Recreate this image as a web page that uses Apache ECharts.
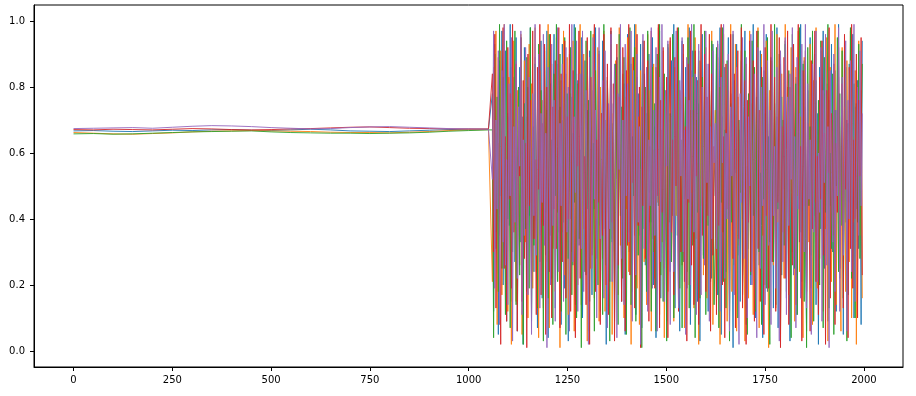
<!DOCTYPE html>
<html><head><meta charset="utf-8">
<script src="https://cdn.jsdelivr.net/npm/echarts@6/dist/echarts.min.js"></script>
<style>html,body{margin:0;padding:0;background:#fff}#c{width:916px;height:396px}</style>
</head><body><div id="c"></div>
<script>
// sampling grids
const stableStart = 0, stableStep = 50;
const chaosStart = 1060, chaosStep = 3;
const xTicks = [0, 250, 500, 750, 1000, 1250, 1500, 1750, 2000];
const yTicks = [0.0, 0.2, 0.4, 0.6, 0.8, 1.0];
const seriesColors = ['#1f77b4', '#ff7f0e', '#2ca02c', '#d62728', '#9467bd'];

// stable phase (x = 0..1050, every 50)
const stable0 = [.667,.668,.666,.665,.667,.669,.668,.670,.671,.669,.668,.670,.672,.670,.667,.666,.665,.667,.669,.671,.672,.672];
const stable1 = [.662,.660,.658,.657,.659,.661,.664,.666,.667,.668,.667,.666,.665,.663,.662,.662,.661,.663,.665,.668,.670,.671];
const stable2 = [.658,.659,.657,.658,.660,.662,.664,.665,.666,.667,.664,.662,.661,.660,.660,.659,.660,.661,.663,.666,.668,.670];
const stable3 = [.671,.670,.672,.671,.670,.672,.674,.673,.671,.670,.671,.673,.674,.676,.678,.679,.677,.675,.674,.673,.673,.673];
const stable4 = [.674,.675,.676,.677,.675,.678,.681,.683,.682,.680,.677,.675,.673,.674,.677,.679,.680,.678,.676,.674,.673,.672];

// chaotic phase (x = 1060..1996, every 3)
const chaos0 = [.78,.12,.93,.31,.66,.05,.88,.47,.97,.20,
.54,.91,.09,.72,.38,.99,.15,.61,.83,.27,
.95,.06,.49,.86,.33,.71,.02,.92,.58,.18,
.80,.41,.98,.11,.67,.24,.89,.52,.07,.76,
.35,.94,.16,.63,.85,.29,.97,.04,.57,.81,
.22,.69,.96,.13,.45,.87,.36,.74,.08,.93,
.51,.19,.84,.62,.03,.90,.40,.77,.26,.99,
.14,.59,.82,.32,.68,.95,.10,.47,.88,.23,
.73,.06,.91,.55,.17,.79,.43,.98,.28,.64,
.86,.12,.50,.94,.37,.70,.02,.83,.60,.21,
.97,.34,.75,.09,.56,.89,.25,.66,.92,.15,
.42,.81,.05,.71,.96,.30,.58,.87,.18,.63,
.99,.11,.48,.78,.35,.93,.07,.61,.84,.26,
.72,.14,.90,.53,.39,.95,.20,.68,.04,.85,
.46,.97,.16,.59,.80,.31,.74,.09,.92,.55,
.24,.88,.41,.99,.13,.65,.82,.36,.06,.77,
.94,.27,.52,.86,.19,.69,.98,.08,.44,.91,
.33,.62,.83,.15,.75,.03,.57,.96,.29,.70,
.87,.40,.12,.81,.64,.22,.93,.58,
.47,.90,.17,.63,.98,.05,.71,.36,.86,.24,
.59,.95,.12,.78,.43,.01,.82,.54,.93,.29,
.67,.15,.88,.40,.74,.97,.08,.56,.31,.84,
.20,.69,.99,.45,.10,.77,.62,.26,.91,.38,
.04,.85,.52,.96,.18,.65,.33,.89,.58,.13,
.75,.42,.98,.07,.61,.87,.23,.70,.49,.94,
.16,.80,.35,.03,.73,.92,.28,.57,.83,.11,
.66,.46,.99,.21,.60,.88,.34,.06,.79,.53,
.95,.19,.68,.41,.90,.14,.72,.02,.86,.37,
.63,.97,.25,.50,.81,.09,.76,.44,.93,.30,
.58,.85,.12,.67,.99,.22,.48,.79,.05,.91,
.39,.64,.17,.87,.55,.27,.96,.10,.74,.43,
.82,.31,.69,.08,.94];
const chaos1 = [.21,.86,.44,.97,.08,.63,.35,.91,.17,.74,
.99,.29,.56,.12,.83,.47,.02,.69,.94,.38,
.15,.79,.60,.26,.96,.05,.52,.88,.33,.71,
.10,.93,.45,.81,.19,.67,.98,.24,.58,.04,
.85,.39,.76,.13,.92,.50,.27,.99,.07,.64,
.87,.31,.55,.18,.95,.42,.73,.01,.82,.36,
.97,.23,.61,.89,.11,.48,.78,.30,.94,.06,
.57,.84,.20,.68,.99,.14,.43,.90,.34,.75,
.03,.62,.86,.25,.53,.96,.16,.70,.40,.92,
.09,.80,.59,.28,.97,.12,.46,.83,.37,.65,
.93,.05,.72,.21,.88,.49,.17,.98,.32,.60,
.84,.10,.77,.43,.95,.24,.66,.02,.89,.54,
.35,.99,.19,.71,.08,.85,.47,.92,.27,.63,
.14,.96,.39,.79,.06,.58,.87,.22,.74,.45,
.98,.11,.67,.33,.91,.04,.55,.82,.18,.69,
.94,.30,.61,.09,.86,.41,.97,.15,.76,.51,
.26,.90,.07,.65,.38,.99,.20,.73,.48,.83,
.13,.95,.34,.57,.02,.88,.44,.79,.23,.68,
.92,.16,.52,.85,.31,.97,.08,.60,
.73,.14,.89,.50,.02,.81,.36,.96,.27,.62,
.09,.85,.44,.99,.18,.70,.55,.93,.06,.77,
.32,.64,.91,.23,.48,.03,.87,.59,.16,.97,
.40,.75,.11,.83,.29,.68,.98,.07,.53,.90,
.35,.61,.20,.94,.46,.01,.79,.57,.88,.26,
.72,.13,.96,.39,.66,.05,.84,.51,.22,.99,
.43,.80,.17,.63,.92,.30,.58,.09,.86,.47,
.97,.24,.71,.38,.04,.89,.55,.15,.76,.33,
.93,.60,.08,.82,.45,.98,.19,.67,.28,.91,
.52,.12,.78,.37,.95,.03,.64,.86,.21,.70,
.49,.99,.14,.58,.83,.31,.06,.92,.42,.74,
.18,.88,.56,.27,.97,.10,.65,.39,.85,.02,
.61,.94,.35,.79,.16];
const chaos2 = [.67,.04,.90,.36,.77,.18,.99,.49,.25,.83,
.58,.11,.94,.40,.71,.07,.86,.30,.62,.97,
.14,.53,.80,.23,.95,.44,.02,.75,.37,.89,
.60,.19,.98,.09,.68,.32,.87,.50,.13,.93,
.27,.79,.56,.03,.91,.42,.73,.16,.96,.35,
.64,.08,.84,.47,.99,.21,.59,.90,.12,.70,
.39,.95,.05,.78,.28,.57,.92,.17,.66,.45,
.98,.10,.81,.34,.61,.01,.88,.51,.24,.94,
.43,.76,.15,.97,.31,.63,.06,.85,.54,.20,
.91,.38,.72,.11,.99,.46,.26,.82,.59,.03,
.93,.33,.69,.17,.87,.52,.08,.96,.41,.74,
.22,.89,.56,.05,.79,.36,.98,.14,.65,.47,
.92,.09,.83,.29,.71,.55,.01,.94,.37,.80,
.18,.97,.48,.62,.12,.86,.30,.75,.06,.90,
.44,.99,.23,.67,.15,.84,.53,.03,.93,.39,
.72,.27,.96,.10,.58,.81,.35,.98,.19,.64,
.07,.88,.46,.77,.24,.95,.13,.60,.85,.32,
.99,.04,.70,.42,.91,.16,.56,.83,.28,.97,
.11,.66,.38,.87,.21,.94,.50,.14,
.34,.92,.58,.07,.80,.45,.98,.21,.67,.13,
.88,.52,.03,.75,.39,.96,.26,.61,.84,.10,
.70,.48,.99,.17,.56,.91,.33,.05,.78,.62,
.23,.94,.41,.86,.12,.69,.97,.30,.54,.08,
.83,.46,.72,.19,.95,.37,.02,.88,.60,.27,
.99,.14,.65,.43,.90,.06,.77,.51,.32,.93,
.18,.71,.85,.40,.04,.96,.57,.25,.81,.11,
.63,.98,.36,.49,.87,.15,.74,.01,.92,.44,
.68,.29,.97,.09,.59,.82,.35,.76,.20,.94,
.53,.07,.89,.42,.66,.99,.13,.60,.31,.84,
.05,.73,.50,.95,.24,.78,.38,.91,.16,.57,
.86,.03,.69,.45,.98,.22,.62,.81,.10,.75,
.39,.93,.28,.64,.87];
const chaos3 = [.84,.30,.96,.13,.57,.89,.41,.02,.73,.98,
.25,.65,.09,.92,.46,.78,.19,.99,.36,.61,
.87,.06,.70,.53,.95,.15,.82,.28,.63,.01,
.90,.44,.76,.21,.97,.34,.58,.11,.86,.49,
.99,.17,.69,.38,.93,.05,.80,.55,.24,.96,
.10,.74,.43,.88,.31,.62,.98,.07,.84,.27,
.52,.94,.16,.71,.40,.99,.12,.66,.85,.33,
.04,.79,.56,.97,.22,.68,.91,.37,.59,.14,
.95,.48,.02,.83,.29,.75,.99,.18,.64,.45,
.90,.08,.72,.35,.96,.54,.20,.87,.11,.67,
.98,.39,.81,.03,.60,.93,.26,.77,.47,.15,
.92,.58,.06,.85,.32,.99,.23,.70,.51,.89,
.13,.63,.96,.38,.80,.01,.74,.44,.94,.28,
.57,.88,.09,.69,.97,.34,.61,.19,.86,.47,
.99,.07,.76,.42,.92,.25,.55,.83,.04,.71,
.95,.36,.64,.17,.89,.50,.98,.12,.79,.30,
.60,.93,.21,.68,.03,.87,.45,.97,.26,.73,
.14,.91,.53,.82,.08,.66,.99,.35,.58,.90,
.18,.77,.41,.96,.06,.84,.29,.62,
.56,.11,.93,.38,.72,.99,.20,.65,.04,.87,
.43,.79,.16,.96,.53,.28,.84,.07,.70,.91,
.34,.60,.98,.13,.47,.82,.02,.76,.39,.94,
.24,.67,.88,.09,.58,.97,.31,.73,.15,.86,
.50,.05,.92,.41,.78,.19,.63,.99,.27,.55,
.83,.12,.71,.45,.95,.01,.68,.36,.89,.22,
.61,.97,.08,.80,.48,.26,.93,.57,.14,.74,
.99,.33,.62,.03,.85,.44,.91,.18,.69,.52,
.06,.88,.37,.77,.97,.21,.59,.11,.83,.46,
.94,.29,.66,.02,.79,.54,.98,.16,.72,.35,
.87,.08,.63,.42,.92,.25,.57,.81,.13,.96,
.49,.70,.04,.86,.31,.99,.19,.64,.40,.90,
.10,.76,.53,.95,.23];
const chaos4 = [.52,.97,.19,.70,.43,.91,.08,.62,.85,.33,
.99,.26,.58,.14,.81,.47,.95,.03,.68,.39,
.88,.22,.74,.56,.97,.11,.64,.35,.92,.49,
.17,.83,.60,.05,.78,.41,.99,.29,.55,.90,
.13,.72,.45,.96,.32,.66,.01,.86,.53,.20,
.93,.38,.76,.09,.59,.98,.24,.69,.44,.87,
.15,.63,.92,.36,.80,.06,.57,.99,.27,.71,
.48,.94,.12,.65,.84,.31,.97,.18,.54,.79,
.40,.02,.89,.61,.25,.95,.46,.73,.10,.67,
.98,.34,.58,.82,.16,.91,.50,.07,.75,.37,
.96,.21,.63,.87,.42,.04,.78,.55,.99,.28,
.70,.14,.93,.47,.81,.33,.60,.97,.09,.85,
.52,.23,.90,.39,.68,.02,.77,.96,.31,.57,
.86,.12,.64,.44,.98,.19,.73,.35,.92,.06,
.61,.83,.27,.99,.49,.15,.79,.56,.94,.38,
.08,.71,.88,.24,.65,.97,.41,.13,.82,.53,
.95,.30,.67,.05,.89,.46,.76,.20,.99,.59,
.36,.84,.11,.72,.93,.43,.17,.80,.62,.26,
.97,.51,.87,.09,.68,.34,.91,.57,
.69,.31,.94,.48,.12,.83,.57,.99,.22,.66,
.40,.90,.06,.74,.53,.97,.17,.61,.86,.35,
.02,.78,.45,.95,.28,.63,.89,.10,.71,.50,
.96,.20,.58,.84,.37,.04,.92,.67,.25,.80,
.44,.99,.14,.55,.88,.32,.73,.08,.97,.41,
.62,.19,.86,.47,.03,.91,.70,.27,.59,.95,
.11,.77,.38,.84,.52,.98,.23,.65,.07,.89,
.43,.72,.16,.93,.56,.30,.99,.13,.81,.46,
.64,.05,.87,.36,.75,.97,.21,.60,.42,.92,
.09,.79,.51,.96,.26,.68,.01,.85,.54,.33,
.90,.18,.73,.47,.98,.12,.62,.83,.29,.57,
.94,.06,.76,.40,.88,.24,.69,.99,.15,.53,
.80,.35,.91,.44,.72];

const stables = [stable0, stable1, stable2, stable3, stable4];
const chaoses = [chaos0, chaos1, chaos2, chaos3, chaos4];

function buildPoints(st, ch) {
  const pts = [];
  st.forEach((v, i) => pts.push([stableStart + i * stableStep, v]));
  ch.forEach((v, i) => pts.push([chaosStart + i * chaosStep, v]));
  return pts;
}

const chart = echarts.init(document.getElementById('c'), null, {renderer: 'canvas'});
const font = {fontFamily: 'DejaVu Sans', fontSize: 10, color: '#000'};
chart.setOption({
  animation: false,
  backgroundColor: '#fff',
  grid: {left: 34, right: 13, top: 5, bottom: 29, show: true, borderColor: '#000', borderWidth: 1, backgroundColor: 'transparent'},
  xAxis: {
    type: 'value', min: -100, max: 2099,
    axisLine: {show: true, onZero: false, lineStyle: {color: '#000', width: 1}},
    axisTick: {show: true, length: 4, lineStyle: {color: '#000'}, customValues: xTicks},
    axisLabel: Object.assign({margin: 8, customValues: xTicks, formatter: v => String(v)}, font),
    splitLine: {show: false}
  },
  yAxis: {
    type: 'value', min: -0.0485, max: 1.0485,
    axisLine: {show: true, onZero: false, lineStyle: {color: '#000', width: 1}},
    axisTick: {show: true, length: 4, lineStyle: {color: '#000'}, customValues: yTicks},
    axisLabel: Object.assign({margin: 9, customValues: yTicks, formatter: v => v.toFixed(1)}, font),
    splitLine: {show: false}
  },
  series: stables.map((st, k) => ({
    type: 'line',
    data: buildPoints(st, chaoses[k]),
    showSymbol: false,
    symbol: 'none',
    silent: true,
    lineStyle: {color: seriesColors[k], width: 0.9},
    itemStyle: {color: seriesColors[k]}
  }))
});
</script>
</body></html>
